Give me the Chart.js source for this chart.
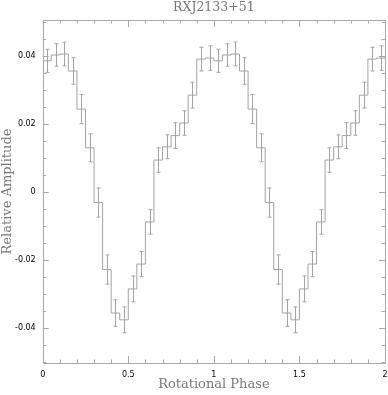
<!DOCTYPE html>
<html>
<head>
<meta charset="utf-8">
<script src="https://cdn.jsdelivr.net/npm/chart.js@4"></script>
<style>
  html, body { margin: 0; padding: 0; background: #fff; }
  #wrap { width: 388px; height: 395px; }
</style>
</head>
<body>
<div id="wrap"><canvas id="chart01"></canvas></div>
<script>
// one rotation, 20 phase bins (folded and shown twice)
const binValues = [
  0.0387, 0.0404, 0.0407, 0.0357, 0.0245, 0.0131, -0.0030, -0.0227, -0.0355, -0.0375,
  -0.0284, -0.0211, -0.0087, 0.0095, 0.0134, 0.0167, 0.0204, 0.0286, 0.0392, 0.0395
];
const binErrors = [
  0.0034, 0.0033, 0.0035, 0.0039, 0.0043, 0.0041, 0.0043, 0.0043, 0.0039, 0.0038,
  0.0038, 0.0037, 0.0036, 0.0036, 0.0035, 0.0038, 0.0036, 0.0038, 0.0035, 0.0036
];
const cycles = 2;
const phaseTicks = [0, 0.5, 1, 1.5, 2];
const ampTicks = [-0.04, -0.02, 0, 0.02, 0.04];

const binWidth = 1 / binValues.length;
const lineColor = "#a3a3a3";
const frameColor = "#a8a8a8";

// step points at bin left edges, last one closes the final bin
const stepPoints = [];
for (let c = 0; c < cycles; c++) {
  binValues.forEach(function (v, i) {
    stepPoints.push({ x: (c * binValues.length + i) * binWidth, y: v });
  });
}
stepPoints.push({ x: cycles, y: binValues[binValues.length - 1] });

const errorBars = {
  id: "errorBars",
  afterDatasetsDraw(chart) {
    const { ctx, scales: { x, y } } = chart;
    ctx.save();
    ctx.strokeStyle = lineColor;
    ctx.lineWidth = 1;
    for (let c = 0; c < cycles; c++) {
      binValues.forEach(function (v, i) {
        const px = Math.round(x.getPixelForValue((c * binValues.length + i + 0.5) * binWidth)) + 0.5;
        const top = y.getPixelForValue(v + binErrors[i]);
        const bot = y.getPixelForValue(v - binErrors[i]);
        ctx.beginPath();
        ctx.moveTo(px, top);
        ctx.lineTo(px, bot);
        ctx.moveTo(px - 2, top);
        ctx.lineTo(px + 2, top);
        ctx.moveTo(px - 2, bot);
        ctx.lineTo(px + 2, bot);
        ctx.stroke();
      });
    }
    ctx.restore();
  },
};

const frameTicks = {
  id: "frameTicks",
  afterDraw(chart) {
    const { ctx, chartArea: a, scales: { x, y } } = chart;
    ctx.save();
    ctx.strokeStyle = frameColor;
    ctx.lineWidth = 1;
    ctx.beginPath();
    ctx.rect(Math.round(a.left) + 0.5, Math.round(a.top) + 0.5,
      Math.round(a.right - a.left), Math.round(a.bottom - a.top));
    // phase ticks every 0.1, longer on the half units
    for (let k = 0; k <= 20; k++) {
      const px = Math.round(x.getPixelForValue(k * 0.1)) + 0.5;
      const len = k % 5 === 0 ? 7 : 3.5;
      ctx.moveTo(px, a.bottom);
      ctx.lineTo(px, a.bottom - len);
      ctx.moveTo(px, a.top);
      ctx.lineTo(px, a.top + len);
    }
    // amplitude ticks every 0.005, longer on the labelled ones
    for (let k = -10; k <= 10; k++) {
      const py = Math.round(y.getPixelForValue(k * 0.005)) + 0.5;
      const len = k % 4 === 0 ? 6 : 3.5;
      ctx.moveTo(a.left, py);
      ctx.lineTo(a.left + len, py);
      ctx.moveTo(a.right, py);
      ctx.lineTo(a.right - len, py);
    }
    ctx.stroke();
    ctx.restore();
  },
};

function noEdgePadding(scale) {
  scale.paddingLeft = 0;
  scale.paddingRight = 0;
  scale.paddingTop = 0;
  scale.paddingBottom = 0;
}

const ctx01 = document.getElementById("chart01").getContext("2d");
const config = {
  type: "line",
  data: {
    datasets: [
      {
        data: stepPoints,
        stepped: true,
        borderColor: lineColor,
        borderWidth: 1,
        pointRadius: 0,
        fill: false,
      },
    ],
  },
  options: {
    responsive: true,
    maintainAspectRatio: false,
    animation: false,
    layout: { padding: { left: 0, right: 3, top: 0, bottom: 0 } },
    plugins: {
      legend: { display: false },
      tooltip: { enabled: false },
    },
    scales: {
      x: {
        type: "linear",
        min: 0,
        max: 2,
        afterBuildTicks(scale) {
          scale.ticks = phaseTicks.map((v) => ({ value: v }));
        },
        afterFit(scale) {
          scale.height = 32;
          noEdgePadding(scale);
        },
        grid: { display: false, drawTicks: false },
        border: { display: false },
        ticks: {
          color: "#000",
          padding: 7,
          maxRotation: 0,
          autoSkip: false,
          font: { family: "DejaVu Sans", size: 8 },
          callback: (v) => String(v),
        },
        title: {
          display: true,
          text: "Rotational Phase",
          color: "#777",
          font: { family: "DejaVu Serif", size: 13 },
          padding: { top: 0, bottom: 3 },
        },
      },
      top: {
        type: "linear",
        position: "top",
        min: 0,
        max: 2,
        afterFit(scale) {
          scale.height = 20;
          noEdgePadding(scale);
        },
        grid: { display: false, drawTicks: false },
        border: { display: false },
        ticks: { display: false },
        title: {
          display: true,
          text: "RXJ2133+51",
          color: "#777",
          font: { family: "DejaVu Serif", size: 12.5 },
          padding: { top: 0.5, bottom: 0 },
        },
      },
      y: {
        min: -0.0502,
        max: 0.0507,
        afterBuildTicks(scale) {
          scale.ticks = ampTicks.map((v) => ({ value: v }));
        },
        afterFit(scale) {
          scale.width = 42.7;
          noEdgePadding(scale);
        },
        grid: { display: false, drawTicks: false },
        border: { display: false },
        ticks: {
          color: "#000",
          padding: 7,
          autoSkip: false,
          font: { family: "DejaVu Sans", size: 8 },
          callback: (v) => (v === 0 ? "0" : v.toFixed(2)),
        },
        title: {
          display: true,
          text: "Relative Amplitude",
          color: "#777",
          font: { family: "DejaVu Serif", size: 13 },
          padding: { top: 0, bottom: 0 },
        },
      },
    },
  },
  plugins: [errorBars, frameTicks],
};
const myChart01 = new Chart(ctx01, config);
</script>
</body>
</html>
